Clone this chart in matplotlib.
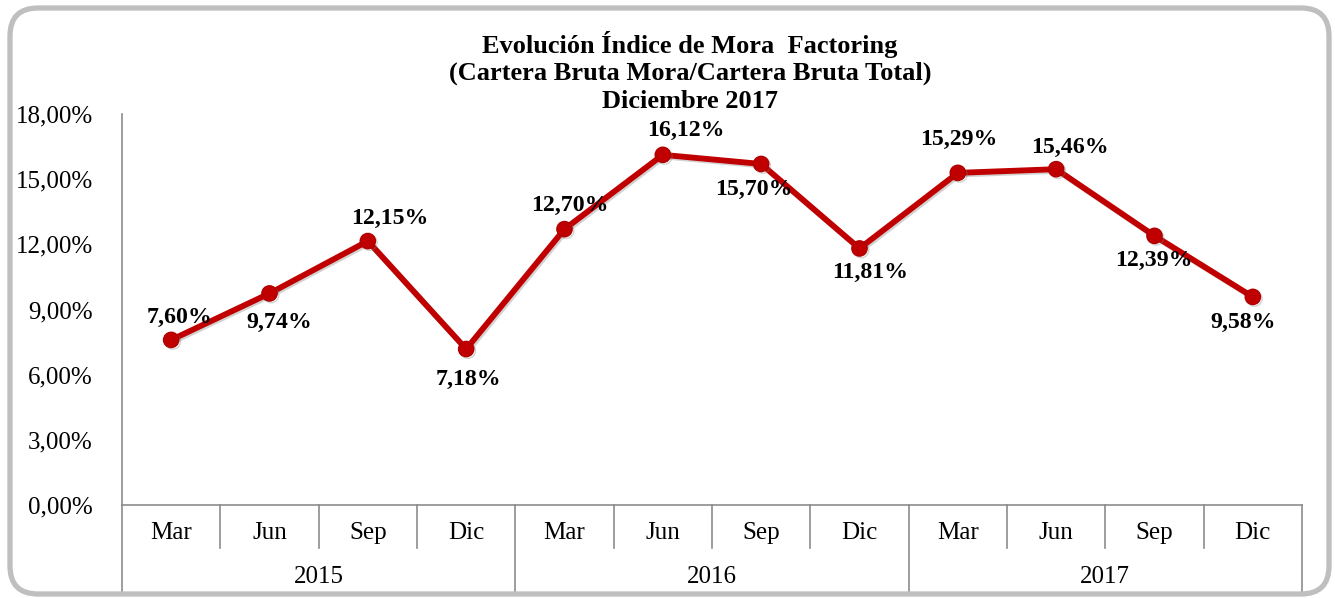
import matplotlib
matplotlib.use("Agg")
import matplotlib.pyplot as plt
import matplotlib.patheffects as pe
from matplotlib.patches import FancyBboxPatch
from matplotlib.transforms import IdentityTransform, blended_transform_factory

plt.rcParams['font.family'] = ['Liberation Serif', 'DejaVu Serif']

meses = ['Mar', 'Jun', 'Sep', 'Dic'] * 3
anios = ['2015', '2016', '2017']
mora = [7.60, 9.74, 12.15, 7.18, 12.70, 16.12, 15.70, 11.81, 15.29, 15.46, 12.39, 9.58]
yticks = [0, 3, 6, 9, 12, 15, 18]

# label offsets in pixels (dx, dy) relative to each point
offs = [(8, 22), (10, -29), (22, 23), (2, -30), (5, 24), (23, 24),
        (-7, -25), (11, -24), (1, 33), (14, 22), (-1, -25), (-10, -26)]

W, H = 1335, 598
fig = plt.figure(figsize=(W / 100, H / 100), dpi=100)
ax = fig.add_axes([122 / W, 1 - 505 / H, (1302 - 122) / W, (505 - 114) / H])

x = list(range(len(mora)))
ax.plot(x, mora, color='#C00000', lw=4.2, marker='o', ms=11,
        markerfacecolor='#C00000', markeredgecolor='#B00000', zorder=3,
        path_effects=[pe.SimpleLineShadow(offset=(1.2, -1.2), shadow_color='#808080', alpha=0.35),
                      pe.Normal()])

for xi, v, (dx, dy) in zip(x, mora, offs):
    ax.annotate(f"{v:.2f}%".replace('.', ','), (xi, v), xytext=(dx * 0.72, dy * 0.72),
                textcoords='offset points', ha='center', va='center',
                fontsize=17.2, fontweight='bold')

ax.set_xlim(-0.5, len(mora) - 0.5)
ax.set_ylim(0, 18)
ax.set_yticks(yticks)
ax.set_yticklabels([f"{t:.2f}%".replace('.', ',') for t in yticks], fontsize=18)
ax.tick_params(axis='y', length=0, pad=21)
ax.set_xticks([])
for s in ['top', 'right']:
    ax.spines[s].set_visible(False)
for s in ['left', 'bottom']:
    ax.spines[s].set_color('#8C8C8C')
    ax.spines[s].set_linewidth(1.2)

# category axis (two levels)
tr = blended_transform_factory(ax.transData, ax.transAxes)
y_m = -(548 - 505) / (505 - 114)
y_y = -(592 - 505) / (505 - 114)
for i in range(len(meses) + 1):
    bottom = y_y if i % 4 == 0 else y_m
    ax.plot([i - 0.5, i - 0.5], [0, bottom], transform=tr, clip_on=False,
            color='#8C8C8C', lw=1.2)
for i, m in enumerate(meses):
    ax.text(i, -(533 - 505) / (505 - 114), m, transform=tr, ha='center', va='center', fontsize=18)
for j, a in enumerate(anios):
    ax.text(4 * j + 1.5, -(577 - 505) / (505 - 114), a, transform=tr, ha='center', va='center', fontsize=18)

# title
for k, t in enumerate(['Evolución Índice de Mora  Factoring',
                       '(Cartera Bruta Mora/Cartera Bruta Total)',
                       'Diciembre 2017']):
    fig.text(690 / W, 1 - (44 + 29 * k) / H, t, ha='center', va='center',
             fontsize=19, fontweight='bold')

# rounded border
border = FancyBboxPatch((10, H - 594), 1319, 586, boxstyle='round,pad=0,rounding_size=28',
                        transform=IdentityTransform(), fill=False,
                        edgecolor='#BFBFBF', lw=3.8)
fig.patches.append(border)

fig.savefig('out.png', dpi=100)
